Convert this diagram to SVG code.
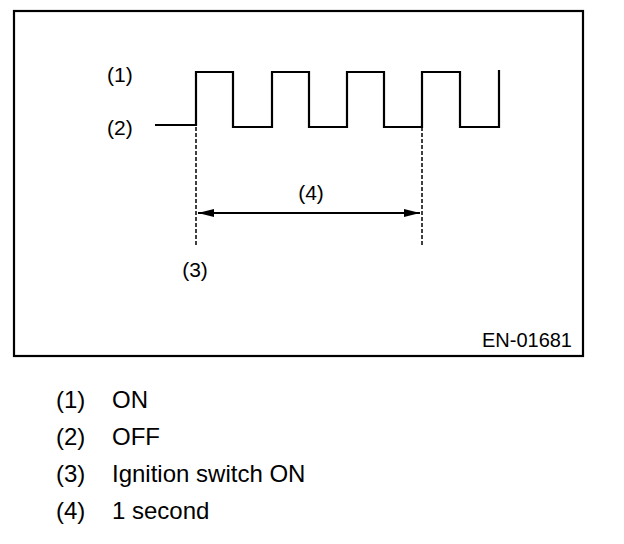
<svg xmlns="http://www.w3.org/2000/svg" width="624" height="544" viewBox="0 0 624 544">
<style>
text{font-family:"Liberation Sans",Arial,sans-serif;fill:#000}
.lbl{font-size:21px}
.leg{font-size:24px}
.wave{fill:none;stroke:#000;stroke-width:2.2}
.dash{stroke:#000;stroke-width:1.5;stroke-dasharray:4 2}
</style>
<defs>
<marker id="ah" viewBox="0 0 16 8" refX="16" refY="4" markerWidth="16" markerHeight="8" markerUnits="userSpaceOnUse" orient="auto-start-reverse">
<path d="M0,0 L16,4 L0,8 Z" fill="#000"/>
</marker>
</defs>
<rect id="frame" x="14" y="11" width="569" height="345" fill="#fff" stroke="#000" stroke-width="2.2"/>
<g id="waveform">
<path class="wave" d="M155,125 H196 V72 H233 V127 H272 V72 H309 V127 H347 V72 H384 V127 H422 V72 H460 V127 H499 V70"/>
</g>
<g id="connectors">
<line class="dash" x1="196" y1="127" x2="196" y2="246"/>
<line class="dash" x1="422" y1="127" x2="422" y2="247"/>
<line x1="198" y1="213" x2="420" y2="213" stroke="#000" stroke-width="2" marker-start="url(#ah)" marker-end="url(#ah)"/>
</g>
<g id="labels">
<text class="lbl" x="107" y="82">(1)</text>
<text class="lbl" x="107" y="135">(2)</text>
<text class="lbl" x="195" y="277" text-anchor="middle">(3)</text>
<text class="lbl" x="311" y="200" text-anchor="middle">(4)</text>
<text x="572" y="347" text-anchor="end" font-size="20">EN-01681</text>
</g>
<g id="legend" class="leg">
<text class="leg" x="56" y="408">(1)</text><text class="leg" x="112" y="408">ON</text>
<text class="leg" x="56" y="445">(2)</text><text class="leg" x="112" y="445">OFF</text>
<text class="leg" x="56" y="482">(3)</text><text class="leg" x="112" y="482">Ignition switch ON</text>
<text class="leg" x="56" y="519">(4)</text><text class="leg" x="112" y="519">1 second</text>
</g>
</svg>
